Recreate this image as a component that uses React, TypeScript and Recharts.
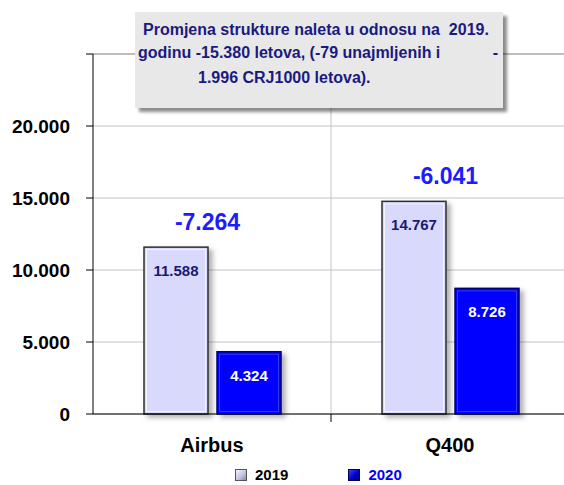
import { BarChart, Bar, XAxis, YAxis, CartesianGrid, Legend, LabelList, ReferenceLine } from "recharts";

const CATEGORIES = ["Airbus", "Q400"];
const FLIGHTS_2019 = [11588, 14767];
const FLIGHTS_2020 = [4324, 8726];
const CHANGE = [-7264, -6041];
const Y_TICKS = [0, 5000, 10000, 15000, 20000, 25000];
const SERIES = ["2019", "2020"];
const NOTE_LINE_1 = "Promjena strukture naleta u odnosu na  2019.";
const NOTE_LINE_2 = "godinu -15.380 letova, (-79 unajmljenih i";
const NOTE_LINE_3 = "1.996 CRJ1000 letova).";

const FONT = '"Liberation Sans", Arial, Helvetica, sans-serif';
const CHART_W = 569;
const CHART_H = 485;
const Y_AXIS_W = 93;
const BAR_GAP = 9;
const PLOT_W = CHART_W - Y_AXIS_W;
const BAND = PLOT_W / CATEGORIES.length;

const rows = CATEGORIES.map((name, i) => ({
  name,
  y2019: FLIGHTS_2019[i],
  y2020: FLIGHTS_2020[i],
  change: CHANGE[i],
}));

// thousands separator with a dot, as in the source
function fmt(v: number) {
  const s = Math.abs(v).toString().replace(/\B(?=(\d{3})+(?!\d))/g, ".");
  return v < 0 ? "-" + s : s;
}

function Bar2019(props: any) {
  const { x, y, width, height } = props;
  return (
    <g filter="url(#barShadow)">
      <rect x={x} y={y} width={width} height={height} fill="#d9d9fb" stroke="#2e2e2e" strokeWidth={1.5} />
      <rect x={x + 2.5} y={y + 2.5} width={width - 5} height={height - 5} fill="none" stroke="#f4f4ff" strokeWidth={1} />
    </g>
  );
}

function Bar2020(props: any) {
  const { x, y, width, height } = props;
  return (
    <g filter="url(#barShadow)">
      <rect x={x} y={y} width={width} height={height} fill="#0000ff" stroke="#000070" strokeWidth={1.5} />
      <rect x={x + 2.5} y={y + 2.5} width={width - 5} height={height - 5} fill="none" stroke="#3535ff" strokeWidth={1} />
    </g>
  );
}

const valueLabel = (color: string) => (props: any) => {
  const { x, y, width, value } = props;
  return (
    <text x={x + width / 2} y={y + 29} textAnchor="middle" fill={color} fontFamily={FONT} fontWeight="bold" fontSize={15}>
      {fmt(value)}
    </text>
  );
};

function ChangeLabel(props: any) {
  const { x, y, width, value } = props;
  return (
    <text x={x + width + BAR_GAP / 2 - 5} y={y - 17} textAnchor="middle" fill="#1c1cff" fontFamily={FONT} fontWeight="bold" fontSize={23}>
      {fmt(value)}
    </text>
  );
}

function CategoryTick(props: any) {
  const { x, y, payload, index } = props;
  return (
    <g>
      <text x={x} y={y + 38} textAnchor="middle" fill="#000" fontFamily={FONT} fontWeight="bold" fontSize={20}>
        {payload.value}
      </text>
      {index < CATEGORIES.length - 1 && (
        <line x1={x + BAND / 2} x2={x + BAND / 2} y1={y} y2={y + 8} stroke="#000" />
      )}
    </g>
  );
}

function LegendContent() {
  const icons = [
    { bg: "linear-gradient(135deg, #f4f4ff 0%, #c4c4e4 55%, #8a8aa8 100%)", border: "#555", color: "#000" },
    { bg: "linear-gradient(135deg, #4040ff 0%, #0000c8 55%, #000080 100%)", border: "#000060", color: "#0000ff" },
  ];
  return (
    <div style={{ display: "flex", alignItems: "center", height: 35, paddingLeft: 235, paddingTop: 14, boxSizing: "border-box" }}>
      {SERIES.map((s, i) => (
        <div key={s} style={{ display: "flex", alignItems: "center", marginRight: 60 }}>
          <span style={{ display: "inline-block", width: 10, height: 10, border: `1px solid ${icons[i].border}`, background: icons[i].bg, marginRight: 8 }} />
          <span style={{ fontFamily: FONT, fontWeight: "bold", fontSize: 15, color: icons[i].color, lineHeight: "16px" }}>{s}</span>
        </div>
      ))}
    </div>
  );
}

export default function App() {
  return (
    <div style={{ position: "absolute", left: 0, top: 0, width: 564, height: 485, overflow: "hidden", background: "#fff" }}>
      <BarChart
        width={CHART_W}
        height={CHART_H}
        data={rows}
        margin={{ top: 54, right: 0, bottom: 0, left: 0 }}
        barCategoryGap={51}
        barGap={BAR_GAP}
      >
        <defs>
          <filter id="barShadow" x="-20%" y="-20%" width="150%" height="150%">
            <feDropShadow dx={4} dy={3} stdDeviation={2.5} floodColor="#000" floodOpacity={0.3} />
          </filter>
        </defs>
        <CartesianGrid
          stroke="#c4c4c4"
          verticalCoordinatesGenerator={({ offset }: any) => [offset.left + offset.width / 2]}
        />
        <ReferenceLine y={25000} stroke="#9a9a9a" />
        <XAxis
          dataKey="name"
          height={36}
          axisLine={{ stroke: "#000" }}
          tickLine={false}
          tickSize={0}
          tickMargin={0}
          tick={<CategoryTick />}
        />
        <YAxis
          width={Y_AXIS_W}
          domain={[0, 25000]}
          ticks={Y_TICKS}
          interval={0}
          tickFormatter={(v: number) => (v === 25000 ? "" : fmt(v))}
          tick={{ fontFamily: FONT, fontWeight: "bold", fontSize: 19, fill: "#000" }}
          axisLine={{ stroke: "#000" }}
          tickLine={{ stroke: "#000" }}
          tickSize={7}
          tickMargin={16}
        />
        <Legend verticalAlign="bottom" height={35} content={() => <LegendContent />} />
        <Bar dataKey="y2019" name={SERIES[0]} shape={<Bar2019 />} isAnimationActive={false}>
          <LabelList dataKey="y2019" content={valueLabel("#1a1a70")} />
          <LabelList dataKey="change" content={<ChangeLabel />} />
        </Bar>
        <Bar dataKey="y2020" name={SERIES[1]} shape={<Bar2020 />} isAnimationActive={false}>
          <LabelList dataKey="y2020" content={valueLabel("#ffffff")} />
        </Bar>
      </BarChart>
      <div
        style={{
          position: "absolute",
          left: 135,
          top: 12,
          width: 368,
          height: 96,
          background: "#e8e8e8",
          boxShadow: "4px 4px 3px rgba(0,0,0,0.45)",
          fontFamily: FONT,
          fontWeight: "bold",
          fontSize: 16,
          color: "#1a1a80",
          lineHeight: "18px",
        }}
      >
        <div style={{ position: "absolute", left: 8, top: 9, whiteSpace: "pre" }}>{NOTE_LINE_1}</div>
        <div style={{ position: "absolute", left: 3, top: 32, whiteSpace: "pre" }}>{NOTE_LINE_2}</div>
        <div style={{ position: "absolute", right: 5, top: 32 }}>-</div>
        <div style={{ position: "absolute", left: 63, top: 57, whiteSpace: "pre" }}>{NOTE_LINE_3}</div>
      </div>
    </div>
  );
}
